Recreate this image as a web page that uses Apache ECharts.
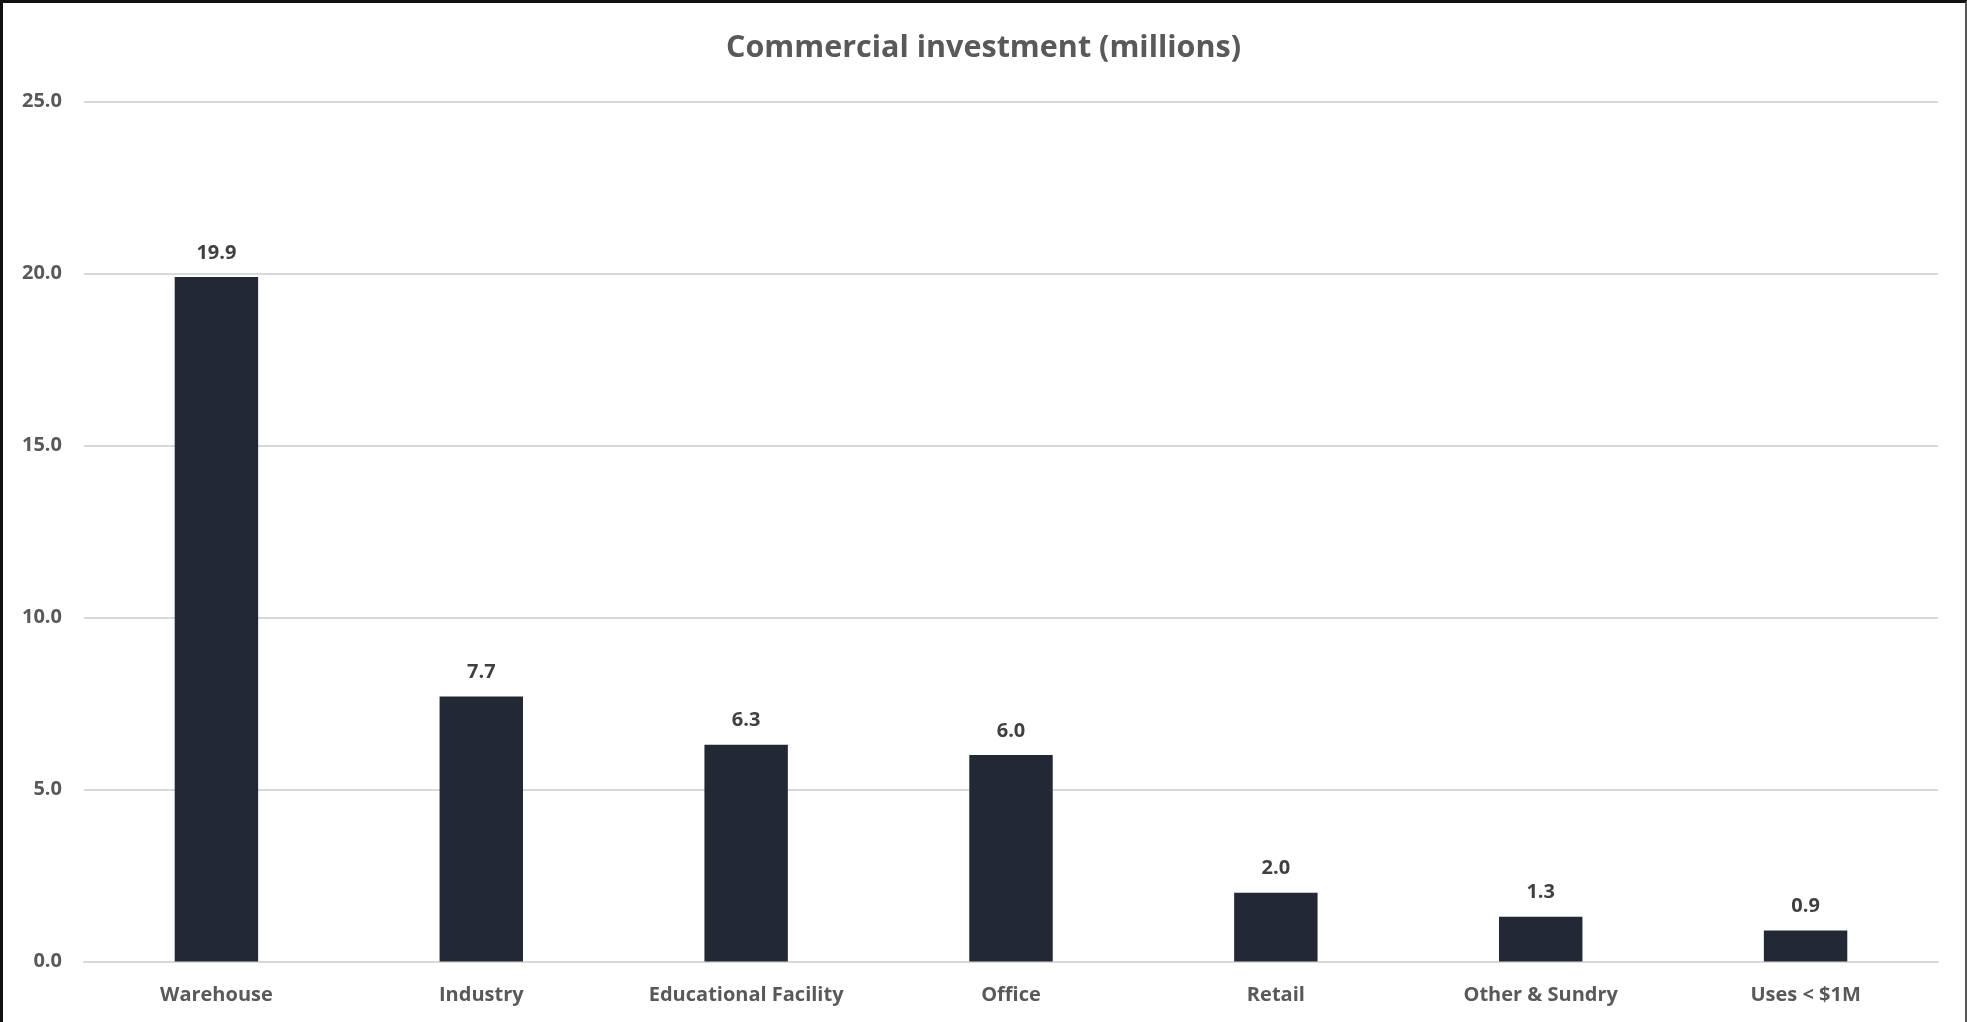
<!DOCTYPE html>
<html><head><meta charset="utf-8">
<script src="https://cdn.jsdelivr.net/npm/echarts@6/dist/echarts.min.js"></script>
<style>
html,body{margin:0;padding:0;background:#fff;}
#wrap{position:absolute;left:0;top:0;width:1967px;height:1022px;box-sizing:border-box;border-top:3px solid #111;border-left:3px solid #111;border-right:2px solid #555;}
#chart{position:absolute;left:-3px;top:-3px;width:1967px;height:1022px;}
</style></head>
<body><div id="wrap"><div id="chart"></div></div>
<script>
const categories = ["Warehouse","Industry","Educational Facility","Office","Retail","Other & Sundry","Uses < $1M"];
const values = [19.9, 7.7, 6.3, 6.0, 2.0, 1.3, 0.9];
const yTicks = {min: 0, max: 25, interval: 5};
const title = "Commercial investment (millions)";

const font = "'Open Sans', sans-serif";
const chart = echarts.init(document.getElementById('chart'), null, {renderer:'canvas'});
chart.setOption({
  animation:false,
  title:{text:title,left:'center',top:28,textStyle:{fontFamily:font,fontSize:30.5,fontWeight:700,color:'#595959'}},
  grid:{left:84,right:29,top:101.5,bottom:1022-961.5,containLabel:false},
  xAxis:{type:'category',data:categories,
    axisLine:{lineStyle:{color:'#d9d9d9',width:2}},axisTick:{show:false},
    axisLabel:{fontFamily:font,fontSize:20,fontWeight:700,color:'#595959',margin:24}},
  yAxis:{type:'value',min:yTicks.min,max:yTicks.max,interval:yTicks.interval,
    axisLine:{show:false},axisTick:{show:false},
    splitLine:{lineStyle:{color:'#d9d9d9',width:2}},
    axisLabel:{fontFamily:font,fontSize:20,fontWeight:700,color:'#595959',margin:22,formatter:v=>v.toFixed(1)}},
  series:[{type:'bar',data:values,barWidth:'31.5%',
    itemStyle:{color:'#222934'},
    label:{show:true,position:'top',distance:14,fontFamily:font,fontSize:20,fontWeight:700,color:'#404040',formatter:p=>p.value.toFixed(1)}}]
});
</script></body></html>
